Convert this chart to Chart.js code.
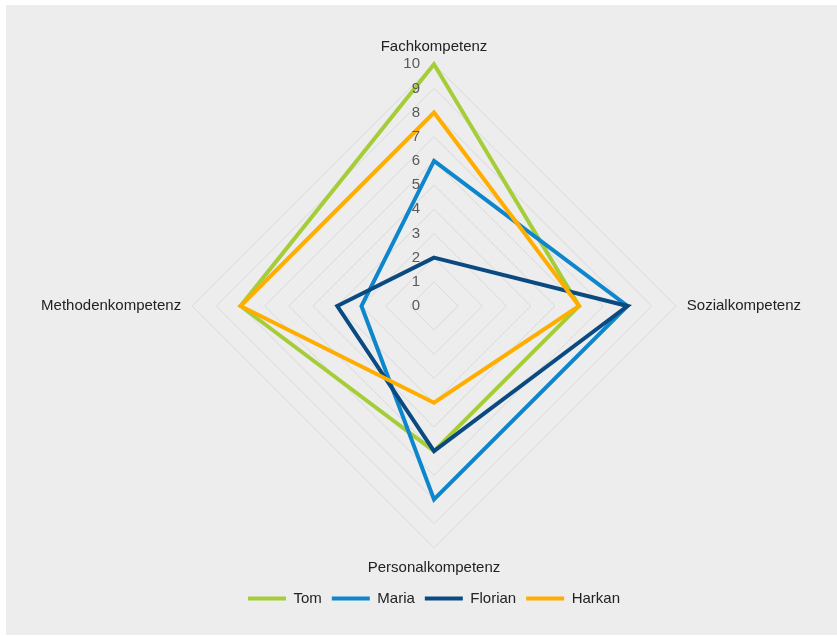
<!DOCTYPE html>
<html>
<head>
<meta charset="utf-8">
<script src="https://cdn.jsdelivr.net/npm/chart.js@4"></script>
<style>
  body { margin: 0; background: #ffffff; overflow: hidden; }
  #box { position: absolute; left: 6px; top: 5px; width: 831px; height: 630px; background: #ededed; overflow: hidden; }
</style>
</head>
<body>
<div id="box"><canvas id="radarChart" width="856" height="630"></canvas></div>
<script>
const kompetenzen = ["Fachkompetenz", "Sozialkompetenz", "Personalkompetenz", "Methodenkompetenz"];
const tom = [10, 6, 6, 8];
const maria = [6, 8, 8, 3];
const florian = [2, 8, 6, 4];
const harkan = [8, 6, 4, 8];
const tickWerte = [0, 1, 2, 3, 4, 5, 6, 7, 8, 9, 10];

const FONT = "'Liberation Sans', Arial, sans-serif";

// Zahlen links neben der Achse, über den Linien
const tickLabels = {
  id: "tickLabels",
  afterDatasetsDraw(chart) {
    const scale = chart.scales.r;
    const ctx = chart.ctx;
    ctx.save();
    ctx.font = "15px " + FONT;
    ctx.fillStyle = "#595959";
    ctx.textAlign = "right";
    ctx.textBaseline = "middle";
    tickWerte.forEach((v) => {
      const d = scale.getDistanceFromCenterForValue(v);
      ctx.fillText(String(v), scale.xCenter - 14, scale.yCenter - d);
    });
    ctx.restore();
  },
};

function serie(label, data, color, order) {
  return {
    label,
    data,
    borderColor: color,
    backgroundColor: color,
    borderWidth: 4,
    borderJoinStyle: "miter",
    borderCapStyle: "round",
    pointRadius: 0,
    pointHoverRadius: 0,
    fill: false,
    order,
  };
}

window.addEventListener("DOMContentLoaded", () => {
  const ctx = document.getElementById("radarChart").getContext("2d");
  new Chart(ctx, {
    type: "radar",
    data: {
      labels: kompetenzen,
      datasets: [
        serie("Tom", tom, "#a5cd39", 3),
        serie("Maria", maria, "#0e86cc", 2),
        serie("Florian", florian, "#0a4a80", 1),
        serie("Harkan", harkan, "#ffad00", 0),
      ],
    },
    options: {
      responsive: false,
      animation: false,
      layout: { padding: { top: 33, bottom: 19, left: 0, right: 0 } },
      scales: {
        r: {
          min: 0,
          max: 10,
          ticks: { display: false, stepSize: 1 },
          grid: { color: "#d9d9d9", lineWidth: 1, circular: false },
          angleLines: { display: false },
          pointLabels: {
            padding: (c) => (c.index === 0 ? 8 : 11),
            color: "#222222",
            font: { family: FONT, size: 15 },
          },
        },
      },
      plugins: {
        tooltip: { enabled: false },
        legend: {
          position: "bottom",
          title: { display: true, text: "", font: { size: 1 }, padding: { top: 2, bottom: 0 } },
          labels: {
            usePointStyle: true,
            pointStyle: "line",
            pointStyleWidth: 38,
            padding: 10,
            color: "#222222",
            font: { family: FONT, size: 15 },
            sort: (a, b) => a.datasetIndex - b.datasetIndex,
          },
        },
      },
    },
    plugins: [tickLabels],
  });
});
</script>
</body>
</html>
